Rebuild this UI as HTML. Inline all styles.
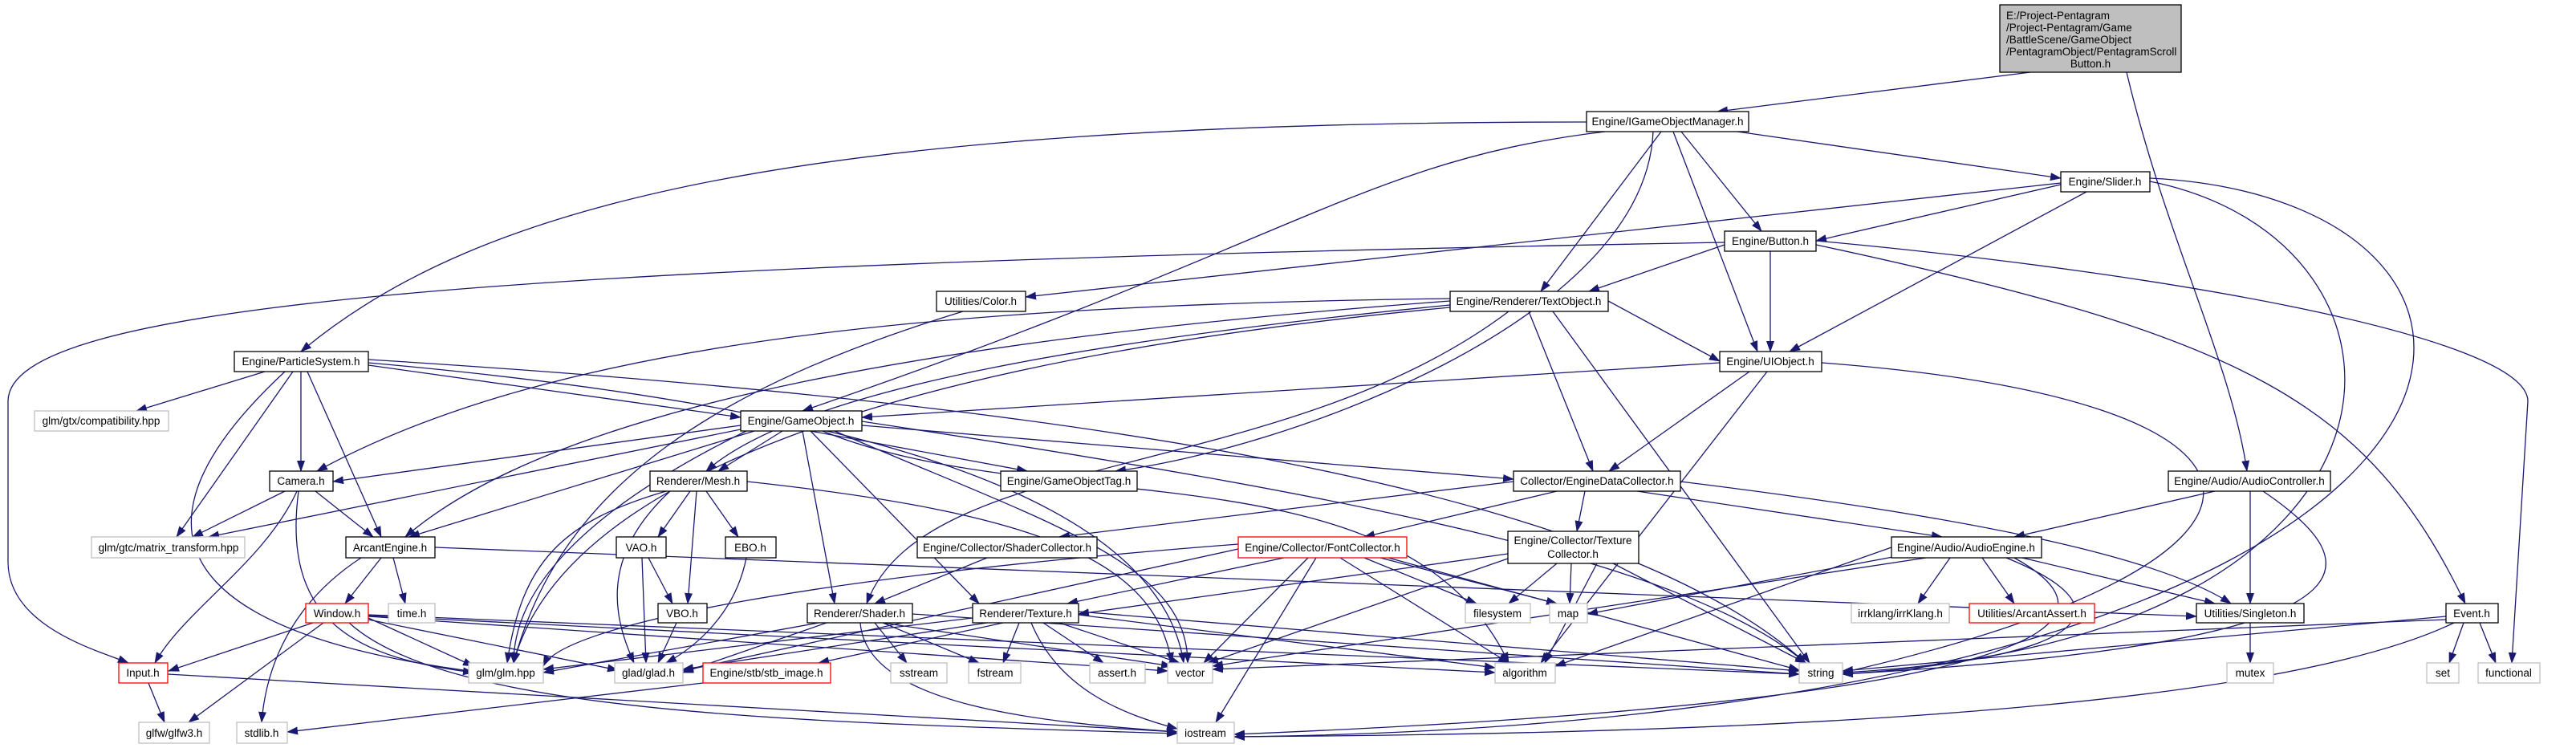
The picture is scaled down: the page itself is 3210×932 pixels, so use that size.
<!DOCTYPE html>
<html><head><meta charset="utf-8"><style>
html,body{margin:0;padding:0;background:#fff;}
svg{display:block}
text{font-family:"Liberation Sans",sans-serif;font-size:13.5px;fill:#000}
.e{fill:none;stroke:#191970;stroke-width:1.3}
.n rect{fill:#fff;stroke:#000;stroke-width:1.3}
.g rect{fill:#fff;stroke:#bfbfbf;stroke-width:1.3}
.r rect{fill:#fff;stroke:#ff0000;stroke-width:1.3}
</style></head><body>
<svg width="3210" height="932" viewBox="0 0 3210 932" xmlns="http://www.w3.org/2000/svg">
<defs><marker id="a" markerWidth="14" markerHeight="10" refX="13" refY="5" orient="auto" markerUnits="userSpaceOnUse"><path d="M0,0L14,5L0,10z" fill="#191970"/></marker></defs>
<g class="e" marker-end="url(#a)">
<path d="M2530,90L2140,139"/><path d="M2650,90C2700,300 2780,450 2800,587"/>
<path d="M1977,152C1000,152 600,250 375,438"/><path d="M2000,164C1700,200 1620,300 1000,512"/>
<path d="M2060,164C2050,400 1600,560 1390,587"/><path d="M2070,164L1920,363"/>
<path d="M2085,164L2190,438"/><path d="M2095,164L2195,288"/><path d="M2165,164L2568,222"/>
<path d="M2568,230L2263,300"/><path d="M2600,239L2230,438"/><path d="M2568,228L1278,370"/>
<path d="M2679,226C3050,300 3050,800 2296,838"/><path d="M2679,222C3250,250 3200,900 1538,918"/>
<path d="M2149,302C600,330 10,380 10,500L10,700C10,780 120,810 160,826"/>
<path d="M2149,305L1980,363"/><path d="M2206,313L2206,438"/>
<path d="M2263,305C2800,420 2950,500 3072,752"/><path d="M2263,300C2700,340 3150,420 3150,500L3130,826"/>
<path d="M1200,388C900,480 700,600 640,826"/>
<path d="M1807,372C1200,380 700,420 395,587"/><path d="M1807,375C1200,420 700,500 505,669"/>
<path d="M1807,380C1400,420 1000,480 880,587"/><path d="M1880,388C1600,600 1150,560 1080,752"/>
<path d="M2004,375L2143,450"/><path d="M1905,388L1985,587"/><path d="M1935,388L2255,826"/>
<path d="M1807,383C1100,450 700,600 640,826"/>
<path d="M330,463L170,512"/><path d="M365,463L220,669"/><path d="M375,463L375,587"/>
<path d="M383,463L475,669"/><path d="M355,463C100,700 300,800 600,838"/><path d="M459,455L923,520"/>
<path d="M459,452C1000,500 1440,600 1475,826"/><path d="M459,448C1300,500 2000,600 2250,826"/>
<path d="M2143,452L1074,520"/><path d="M2180,463L2005,587"/><path d="M2202,463L1920,826"/>
<path d="M2270,452C2900,500 2900,700 2296,838"/>
<path d="M923,530L415,600"/><path d="M923,535L260,669"/><path d="M940,537L510,669"/>
<path d="M975,537L895,587"/><path d="M930,537C700,650 640,750 640,826"/><path d="M1010,537L1280,587"/>
<path d="M1074,530L1886,597"/><path d="M1000,537L1040,752"/><path d="M1010,537L1220,752"/>
<path d="M1040,537C1300,650 1480,700 1480,826"/><path d="M1074,525C1700,620 2100,700 2250,826"/>
<path d="M1025,537C1300,650 1750,550 1880,826"/>
<path d="M355,612L240,669"/><path d="M393,612L465,669"/><path d="M370,612C330,700 230,760 193,826"/>
<path d="M372,612C350,780 450,820 590,838"/>
<path d="M860,612L820,669"/><path d="M880,612L920,669"/><path d="M868,612L857,752"/>
<path d="M830,612C700,650 650,700 632,826"/><path d="M835,612C740,700 770,780 790,826"/>
<path d="M931,600C1300,640 1440,700 1460,826"/>
<path d="M808,695L838,752"/><path d="M800,695L805,826"/><path d="M843,776L820,826"/>
<path d="M930,695C915,770 860,810 830,826"/>
<path d="M475,695L430,752"/><path d="M490,695L505,752"/><path d="M450,695C350,760 330,850 326,900"/>
<path d="M542,682L2737,768"/>
<path d="M390,776L210,836"/><path d="M403,776L235,900"/><path d="M459,770L590,830"/>
<path d="M459,772L770,835"/><path d="M435,776C560,890 1000,900 1467,914"/>
<path d="M459,768L1455,836"/><path d="M459,766L2242,840"/><path d="M459,767L1863,838"/>
<path d="M185,851L205,900"/><path d="M209,840L1467,912"/>
<path d="M1886,600L1320,669"/><path d="M1940,612L1700,669"/><path d="M1975,612L1965,662"/>
<path d="M2040,612L2420,669"/><path d="M2094,600C2500,650 2700,700 2780,752"/>
<path d="M1230,695L1090,752"/>
<path d="M1600,695L1330,752"/><path d="M1543,678C1000,720 700,780 677,830"/><path d="M1543,684L851,836"/>
<path d="M1630,695L1500,826"/><path d="M1700,695L1840,752"/><path d="M1720,695L1940,752"/>
<path d="M1670,695L1880,826"/><path d="M1640,695L1515,900"/><path d="M1730,695L2242,835"/>
<path d="M1879,690L1344,765"/><path d="M1940,702L1880,752"/><path d="M1958,702L1956,752"/>
<path d="M1990,702L1925,826"/><path d="M2010,702L2250,826"/><path d="M1879,696L1505,826"/>
<path d="M1020,776L677,838"/><path d="M1030,776L851,838"/><path d="M1090,776L1130,826"/>
<path d="M1100,776L1220,826"/><path d="M1072,776C1080,880 1300,900 1467,912"/>
<path d="M1137,765L2242,840"/><path d="M1100,776L1460,830"/>
<path d="M1230,776L851,834"/><path d="M1212,770L677,834"/><path d="M1250,776L1020,826"/>
<path d="M1270,776L1250,826"/><path d="M1300,776L1375,826"/><path d="M1320,776L1470,826"/>
<path d="M1285,776C1320,860 1400,890 1467,908"/><path d="M1344,766L1863,832"/><path d="M1344,762L2242,836"/>
<path d="M876,851L358,912"/>
<path d="M2760,612L2510,669"/><path d="M2804,612L2804,752"/><path d="M2820,612C2950,700 3000,800 2296,840"/>
<path d="M2430,695L2390,752"/><path d="M2470,695L2510,752"/><path d="M2520,695L2760,752"/>
<path d="M2380,690L1978,765"/><path d="M2500,695C2660,760 2600,820 2296,840"/>
<path d="M2510,695C2700,800 2400,880 1538,915"/><path d="M2400,695L1511,830"/><path d="M2357,682L1938,830"/>
<path d="M2804,776L2804,826"/>
<path d="M3070,776L3052,826"/><path d="M3090,776L3110,826"/><path d="M3048,768L2296,836"/>
<path d="M3058,776C2800,900 2000,915 1538,918"/><path d="M3048,772L1511,834"/>
</g>
<g class="n"><rect x="2492" y="6" width="226" height="84" style="fill:#bfbfbf"/>
<text x="2500" y="24">E:/Project-Pentagram</text><text x="2500" y="39">/Project-Pentagram/Game</text>
<text x="2500" y="54">/BattleScene/GameObject</text><text x="2500" y="69">/PentagramObject/PentagramScroll</text>
<text x="2605" y="84" text-anchor="middle">Button.h</text></g>
<g class="n">
<rect x="1977" y="139" width="202" height="25"/><text x="2078" y="156" text-anchor="middle">Engine/IGameObjectManager.h</text>
<rect x="2568" y="214" width="111" height="25"/><text x="2623" y="231" text-anchor="middle">Engine/Slider.h</text>
<rect x="2149" y="288" width="114" height="25"/><text x="2206" y="305" text-anchor="middle">Engine/Button.h</text>
<rect x="1167" y="363" width="111" height="25"/><text x="1222" y="380" text-anchor="middle">Utilities/Color.h</text>
<rect x="1807" y="363" width="197" height="25"/><text x="1905" y="380" text-anchor="middle">Engine/Renderer/TextObject.h</text>
<rect x="292" y="438" width="167" height="25"/><text x="375" y="455" text-anchor="middle">Engine/ParticleSystem.h</text>
<rect x="2143" y="438" width="127" height="25"/><text x="2206" y="455" text-anchor="middle">Engine/UIObject.h</text>
<rect x="923" y="512" width="151" height="25"/><text x="998" y="529" text-anchor="middle">Engine/GameObject.h</text>
<rect x="336" y="587" width="79" height="25"/><text x="375" y="604" text-anchor="middle">Camera.h</text>
<rect x="810" y="587" width="121" height="25"/><text x="870" y="604" text-anchor="middle">Renderer/Mesh.h</text>
<rect x="1247" y="587" width="170" height="25"/><text x="1332" y="604" text-anchor="middle">Engine/GameObjectTag.h</text>
<rect x="1886" y="587" width="208" height="25"/><text x="1990" y="604" text-anchor="middle">Collector/EngineDataCollector.h</text>
<rect x="2702" y="587" width="202" height="25"/><text x="2803" y="604" text-anchor="middle">Engine/Audio/AudioController.h</text>
<rect x="431" y="669" width="111" height="26"/><text x="486" y="687" text-anchor="middle">ArcantEngine.h</text>
<rect x="768" y="669" width="62" height="26"/><text x="799" y="687" text-anchor="middle">VAO.h</text>
<rect x="904" y="669" width="63" height="26"/><text x="935" y="687" text-anchor="middle">EBO.h</text>
<rect x="1143" y="669" width="224" height="26"/><text x="1255" y="687" text-anchor="middle">Engine/Collector/ShaderCollector.h</text>
<rect x="1879" y="662" width="163" height="40"/><text x="1960" y="678" text-anchor="middle">Engine/Collector/Texture</text><text x="1960" y="695" text-anchor="middle">Collector.h</text>
<rect x="2357" y="669" width="187" height="26"/><text x="2450" y="687" text-anchor="middle">Engine/Audio/AudioEngine.h</text>
<rect x="820" y="752" width="61" height="24"/><text x="850" y="769" text-anchor="middle">VBO.h</text>
<rect x="1006" y="752" width="131" height="24"/><text x="1071" y="769" text-anchor="middle">Renderer/Shader.h</text>
<rect x="1212" y="752" width="132" height="24"/><text x="1278" y="769" text-anchor="middle">Renderer/Texture.h</text>
<rect x="2737" y="752" width="134" height="24"/><text x="2804" y="769" text-anchor="middle">Utilities/Singleton.h</text>
<rect x="3048" y="752" width="65" height="24"/><text x="3080" y="769" text-anchor="middle">Event.h</text>
</g>
<g class="r">
<rect x="1543" y="669" width="210" height="26"/><text x="1648" y="687" text-anchor="middle">Engine/Collector/FontCollector.h</text>
<rect x="381" y="752" width="78" height="24"/><text x="420" y="769" text-anchor="middle">Window.h</text>
<rect x="2454" y="752" width="156" height="24"/><text x="2532" y="769" text-anchor="middle">Utilities/ArcantAssert.h</text>
<rect x="148" y="826" width="61" height="25"/><text x="178" y="843" text-anchor="middle">Input.h</text>
<rect x="876" y="826" width="159" height="25"/><text x="955" y="843" text-anchor="middle">Engine/stb/stb_image.h</text>
</g>
<g class="g">
<rect x="43" y="512" width="167" height="25"/><text x="126" y="529" text-anchor="middle">glm/gtx/compatibility.hpp</text>
<rect x="114" y="669" width="191" height="26"/><text x="210" y="687" text-anchor="middle">glm/gtc/matrix_transform.hpp</text>
<rect x="484" y="752" width="58" height="24"/><text x="513" y="769" text-anchor="middle">time.h</text>
<rect x="1826" y="752" width="81" height="24"/><text x="1866" y="769" text-anchor="middle">filesystem</text>
<rect x="1931" y="752" width="47" height="24"/><text x="1954" y="769" text-anchor="middle">map</text>
<rect x="2307" y="752" width="122" height="24"/><text x="2368" y="769" text-anchor="middle">irrklang/irrKlang.h</text>
<rect x="584" y="826" width="93" height="25"/><text x="630" y="843" text-anchor="middle">glm/glm.hpp</text>
<rect x="766" y="826" width="85" height="25"/><text x="808" y="843" text-anchor="middle">glad/glad.h</text>
<rect x="1110" y="826" width="70" height="25"/><text x="1145" y="843" text-anchor="middle">sstream</text>
<rect x="1207" y="826" width="65" height="25"/><text x="1240" y="843" text-anchor="middle">fstream</text>
<rect x="1358" y="826" width="69" height="25"/><text x="1392" y="843" text-anchor="middle">assert.h</text>
<rect x="1455" y="826" width="56" height="25"/><text x="1483" y="843" text-anchor="middle">vector</text>
<rect x="1863" y="826" width="75" height="25"/><text x="1900" y="843" text-anchor="middle">algorithm</text>
<rect x="2242" y="826" width="54" height="25"/><text x="2269" y="843" text-anchor="middle">string</text>
<rect x="2775" y="826" width="58" height="25"/><text x="2804" y="843" text-anchor="middle">mutex</text>
<rect x="3024" y="826" width="40" height="25"/><text x="3044" y="843" text-anchor="middle">set</text>
<rect x="3088" y="826" width="77" height="25"/><text x="3126" y="843" text-anchor="middle">functional</text>
<rect x="173" y="900" width="88" height="26"/><text x="217" y="918" text-anchor="middle">glfw/glfw3.h</text>
<rect x="295" y="900" width="63" height="26"/><text x="326" y="918" text-anchor="middle">stdlib.h</text>
<rect x="1467" y="900" width="71" height="26"/><text x="1502" y="918" text-anchor="middle">iostream</text>
</g>
</svg>
</body></html>
